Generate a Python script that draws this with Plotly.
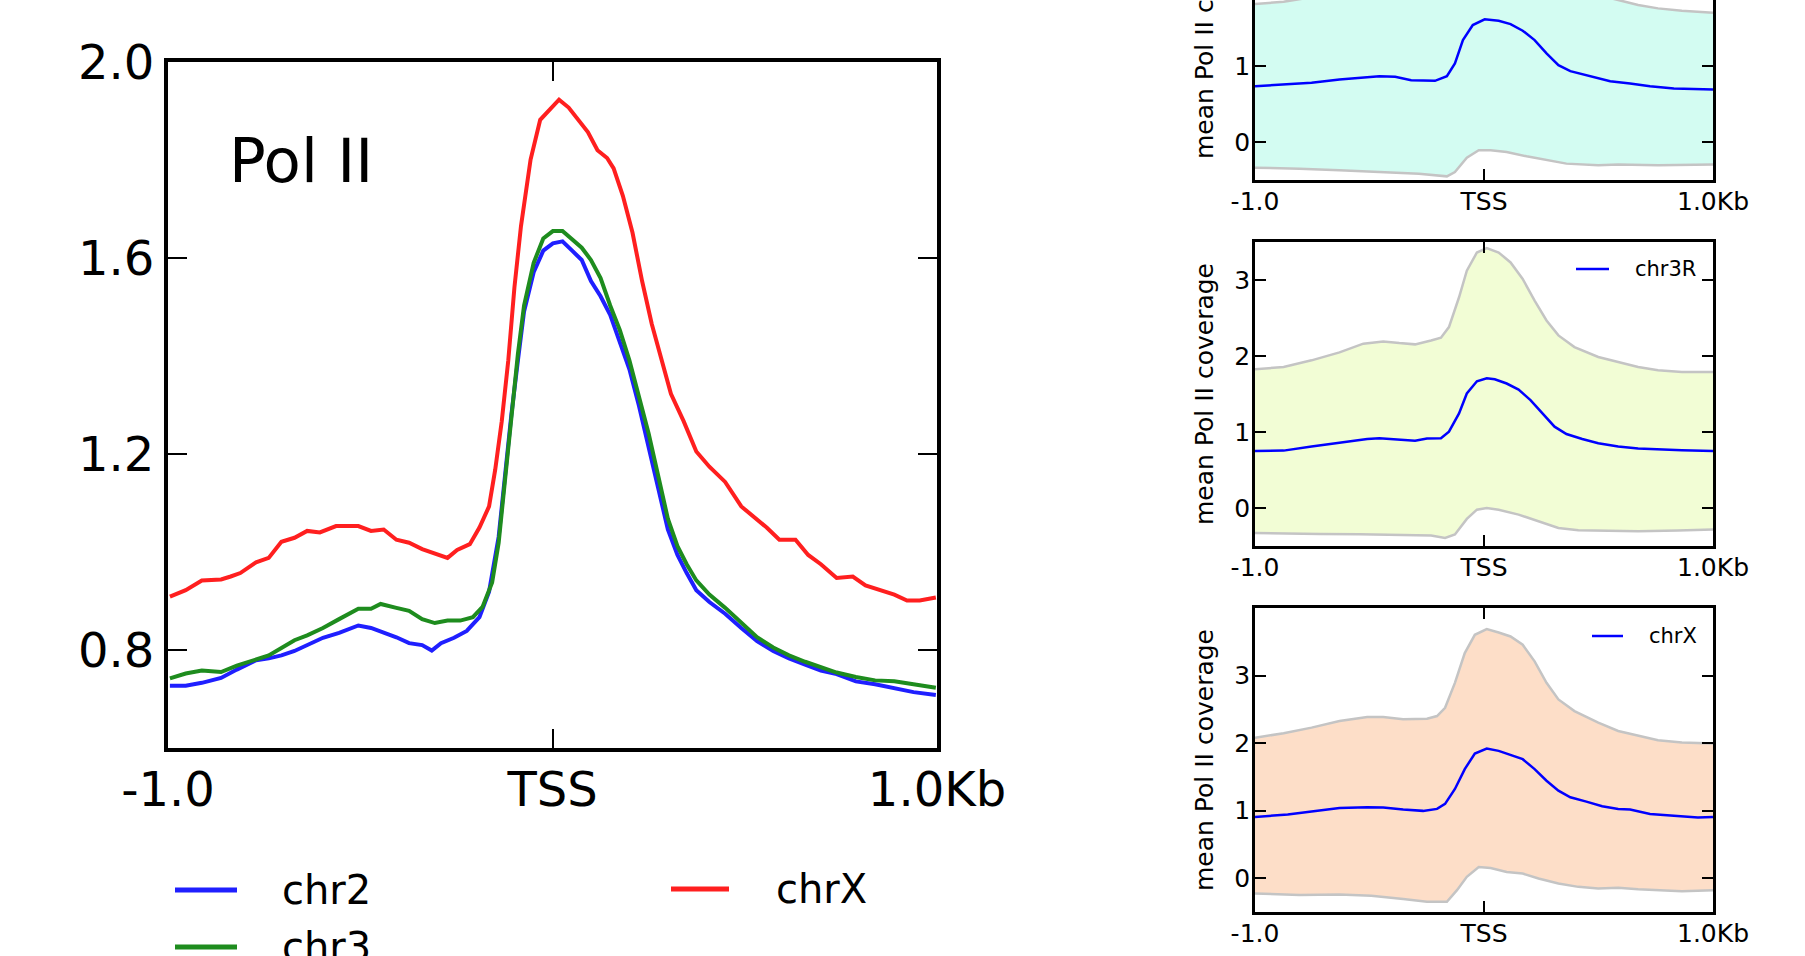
import plotly.graph_objects as go

W, H = 1805, 956
def px(x):
    return x / W
def py(y):
    return 1 - y / H

FONT = "DejaVu Sans"

# ---------------- main panel data (bp relative to TSS) ----------------
tick_vals_x = [-1000, 0, 1000]
tick_text_x = ["-1.0", "TSS", "1.0Kb"]

chrX_x = [-995, -954, -912, -862, -837, -812, -771, -738, -705, -671, -638, -605, -563, -505, -472,
          -439, -406, -373, -339, -306, -273, -248, -215, -190, -165, -149, -132, -115, -99, -82,
          -57, -32, -7, 17, 42, 67, 92, 117, 142, 159, 183, 208, 233, 258, 283, 308, 341, 374, 408,
          449, 491, 524, 557, 590, 632, 665, 698, 739, 781, 814, 856, 889, 922, 955, 997]
chrX_y = [0.909, 0.922, 0.942, 0.944, 0.950, 0.957, 0.979, 0.988, 1.021, 1.029,
          1.043, 1.040, 1.053, 1.053, 1.043, 1.046, 1.025, 1.019, 1.006, 0.996,
          0.988, 1.004, 1.016, 1.050, 1.093, 1.168, 1.267, 1.391, 1.540, 1.665,
          1.801, 1.882, 1.903, 1.923, 1.907, 1.882, 1.857, 1.820, 1.804, 1.783,
          1.727, 1.652, 1.553, 1.466, 1.391, 1.323, 1.267, 1.205, 1.174, 1.143,
          1.093, 1.071, 1.050, 1.025, 1.025, 0.994, 0.975, 0.947, 0.950, 0.932,
          0.922, 0.913, 0.901, 0.901, 0.907]

chr3_x = [-995, -954, -912, -862, -821, -771, -738, -705, -671, -638, -597, -555, -505, -472, -447,
          -406, -373, -339, -306, -273, -240, -207, -182, -157, -140, -124, -107, -90, -74, -49,
          -24, 1, 26, 51, 76, 100, 125, 150, 175, 200, 225, 250, 275, 300, 325, 349, 374, 408,
          449, 491, 532, 574, 615, 657, 698, 739, 789, 839, 889, 939, 997]
chr3_y = [0.742, 0.752, 0.758, 0.755, 0.768, 0.780, 0.789, 0.804, 0.820, 0.830,
          0.845, 0.863, 0.884, 0.884, 0.894, 0.886, 0.880, 0.863, 0.855, 0.860,
          0.860, 0.867, 0.888, 0.938, 1.019, 1.143, 1.280, 1.404, 1.503, 1.590,
          1.640, 1.655, 1.655, 1.637, 1.621, 1.596, 1.559, 1.503, 1.453, 1.391,
          1.317, 1.242, 1.155, 1.068, 1.012, 0.975, 0.942, 0.913, 0.886, 0.857,
          0.826, 0.805, 0.789, 0.776, 0.764, 0.754, 0.745, 0.738, 0.736, 0.730, 0.723]

chr2_x = [-995, -954, -912, -862, -821, -771, -738, -705, -671, -638, -597, -555, -505, -472, -439,
          -406, -373, -339, -314, -290, -256, -223, -190, -165, -140, -124, -107, -90, -74, -49,
          -24, 1, 26, 51, 76, 100, 125, 150, 175, 200, 225, 250, 275, 300, 325, 349, 374, 408,
          449, 491, 532, 574, 615, 657, 698, 739, 789, 839, 889, 939, 997]
chr2_y = [0.727, 0.727, 0.733, 0.743, 0.760, 0.779, 0.783, 0.789, 0.798, 0.810,
          0.825, 0.835, 0.850, 0.845, 0.836, 0.826, 0.814, 0.810, 0.799, 0.814,
          0.825, 0.839, 0.867, 0.919, 1.031, 1.155, 1.280, 1.391, 1.491, 1.571,
          1.615, 1.630, 1.634, 1.615, 1.596, 1.553, 1.522, 1.484, 1.429, 1.373,
          1.298, 1.217, 1.130, 1.046, 0.994, 0.957, 0.922, 0.898, 0.874, 0.845,
          0.818, 0.798, 0.783, 0.770, 0.758, 0.751, 0.736, 0.730, 0.723, 0.714, 0.708]

main_ytick_vals = [0.8, 1.2, 1.6, 2.0]
main_ytick_text = ["0.8", "1.2", "1.6", "2.0"]

# ---------------- right panels data ----------------
# top panel (label cut off)
top_mean_x = [-1000, -875, -753, -631, -544, -457, -388, -318, -214, -162, -127, -92, -49, 3, 64,
              116, 169, 221, 273, 325, 377, 464, 551, 638, 725, 829, 1000]
top_mean_y = [0.732, 0.759, 0.776, 0.820, 0.846, 0.864, 0.855, 0.811, 0.803, 0.864, 1.031, 1.338,
              1.535, 1.610, 1.592, 1.548, 1.461, 1.338, 1.162, 1.009, 0.930, 0.864, 0.798, 0.768,
              0.732, 0.702, 0.689]
top_up_x = [-1000, -875, -753, -631, -510, -400, -250, -150, -75, 0, 100, 200, 300, 400, 500, 586,
            673, 760, 864, 1000]
top_up_y = [1.811, 1.842, 1.90, 2.05, 2.15, 2.15, 2.15, 2.3, 2.9, 3.3, 3.1, 2.6, 2.2, 2.0, 1.93,
            1.864, 1.798, 1.754, 1.724, 1.697]
top_lo_x = [-1000, -805, -631, -457, -284, -162, -127, -75, -23, 29, 99, 186, 273, 360, 499, 586,
            760, 1000]
top_lo_y = [-0.338, -0.351, -0.373, -0.395, -0.417, -0.452, -0.395, -0.206, -0.110, -0.110, -0.132,
            -0.189, -0.241, -0.285, -0.307, -0.298, -0.307, -0.298]

# middle panel chr3R
r3_mean_x = [-1000, -875, -753, -631, -510, -457, -388, -301, -249, -188, -153, -109, -75, -31, 12,
             47, 99, 151, 203, 256, 308, 360, 429, 499, 586, 673, 760, 864, 1000]
r3_mean_y = [0.751, 0.755, 0.808, 0.860, 0.908, 0.917, 0.904, 0.886, 0.913, 0.917, 1.004, 1.245,
             1.507, 1.668, 1.707, 1.694, 1.638, 1.559, 1.419, 1.245, 1.070, 0.974, 0.908, 0.852,
             0.808, 0.782, 0.769, 0.760, 0.751]
r3_up_x = [-1000, -875, -753, -631, -527, -440, -370, -301, -231, -188, -153, -109, -75, -31, 12, 64,
           116, 169, 221, 273, 325, 395, 499, 586, 673, 760, 864, 1000]
r3_up_y = [1.825, 1.856, 1.943, 2.048, 2.162, 2.192, 2.170, 2.153, 2.205, 2.240, 2.380, 2.773, 3.122,
           3.362, 3.419, 3.362, 3.231, 3.013, 2.729, 2.467, 2.271, 2.118, 1.987, 1.921, 1.856, 1.812,
           1.790, 1.790]
r3_lo_x = [-1000, -875, -718, -544, -370, -231, -170, -127, -75, -31, 12, 64, 151, 238, 325, 412, 551,
           673, 847, 1000]
r3_lo_y = [-0.328, -0.336, -0.341, -0.345, -0.354, -0.362, -0.393, -0.349, -0.144, -0.022, 0.0,
           -0.022, -0.087, -0.175, -0.262, -0.293, -0.301, -0.306, -0.297, -0.284]

# bottom panel chrX
rx_mean_x = [-1000, -857, -753, -631, -510, -440, -353, -266, -205, -170, -127, -84, -40, 12, 64,
             116, 169, 221, 273, 325, 377, 447, 516, 586, 638, 725, 829, 934, 1000]
rx_mean_y = [0.908, 0.943, 0.987, 1.041, 1.051, 1.046, 1.016, 0.997, 1.026, 1.100, 1.321, 1.615,
             1.846, 1.920, 1.885, 1.826, 1.762, 1.615, 1.443, 1.296, 1.198, 1.134, 1.065, 1.026,
             1.016, 0.952, 0.928, 0.898, 0.908]
rx_up_x = [-1000, -875, -753, -631, -510, -440, -353, -249, -205, -170, -127, -84, -40, 12, 64, 116,
           169, 221, 273, 325, 395, 499, 586, 673, 760, 864, 1000]
rx_up_y = [2.081, 2.145, 2.229, 2.327, 2.386, 2.386, 2.352, 2.361, 2.401, 2.523, 2.892, 3.333, 3.603,
           3.687, 3.638, 3.579, 3.456, 3.211, 2.892, 2.646, 2.474, 2.302, 2.180, 2.106, 2.042, 2.008,
           1.993]
rx_lo_x = [-1000, -805, -631, -492, -353, -249, -162, -118, -75, -23, 29, 99, 169, 238, 325, 412, 499,
           586, 673, 760, 864, 1000]
rx_lo_y = [-0.226, -0.250, -0.241, -0.260, -0.309, -0.349, -0.349, -0.177, 0.020, 0.167, 0.152, 0.093,
           0.069, -0.005, -0.079, -0.128, -0.152, -0.142, -0.162, -0.177, -0.191, -0.177]

fig = go.Figure()

# ---- main panel lines ----
main_series = [("chr2", chr2_x, chr2_y, "#1f1fff"),
               ("chr3", chr3_x, chr3_y, "#1e8c1e"),
               ("chrX", chrX_x, chrX_y, "#ff1f1f")]
for name, xs, ys, col in main_series:
    fig.add_trace(go.Scatter(x=xs, y=ys, mode="lines", name=name,
                             line=dict(color=col, width=4),
                             showlegend=False, xaxis="x", yaxis="y"))

# ---- right panels ----
def add_panel(n, mx, my, ux, uy, lx, ly, fillcol):
    xa, ya = "x%d" % n, "y%d" % n
    fig.add_trace(go.Scatter(x=lx, y=ly, mode="lines", line=dict(color="#c4c4c4", width=2.5),
                             showlegend=False, xaxis=xa, yaxis=ya))
    fig.add_trace(go.Scatter(x=ux, y=uy, mode="lines", line=dict(color="#c4c4c4", width=2.5),
                             fill="tonexty", fillcolor=fillcol,
                             showlegend=False, xaxis=xa, yaxis=ya))
    fig.add_trace(go.Scatter(x=mx, y=my, mode="lines", line=dict(color="#0000ff", width=2.5),
                             showlegend=False, xaxis=xa, yaxis=ya))

add_panel(2, top_mean_x, top_mean_y, top_up_x, top_up_y, top_lo_x, top_lo_y, "#d3fcf2")
add_panel(3, r3_mean_x, r3_mean_y, r3_up_x, r3_up_y, r3_lo_x, r3_lo_y, "#f2fdd5")
add_panel(4, rx_mean_x, rx_mean_y, rx_up_x, rx_up_y, rx_lo_x, rx_lo_y, "#fddec8")

# ---- axes ----
main_ax = dict(showline=True, linecolor="black", linewidth=4, mirror="allticks",
               ticks="inside", ticklen=19, tickwidth=2, tickcolor="black",
               showgrid=False, zeroline=False, automargin=False,
               tickfont=dict(family=FONT, size=48, color="black"))
right_ax = dict(showline=True, linecolor="black", linewidth=2.5, mirror="allticks",
                ticks="inside", ticklen=11, tickwidth=1.5, tickcolor="black",
                showgrid=False, zeroline=False, automargin=False,
                tickfont=dict(family=FONT, size=25, color="black"))

RX0, RX1 = px(1255), px(1713)
right_ax_nomirror = {k: v for k, v in right_ax.items() if k != "mirror"}
layout = dict(
    width=W, height=H,
    margin=dict(l=0, r=0, t=0, b=0, autoexpand=False),
    paper_bgcolor="white", plot_bgcolor="white",
    showlegend=False,
    xaxis=dict(domain=[px(168), px(937)], range=[-1000, 1000], anchor="y",
               tickvals=tick_vals_x, ticktext=tick_text_x, ticklabelstandoff=-4, **main_ax),
    yaxis=dict(domain=[py(748), py(62)], range=[0.6, 2.0], anchor="x",
               tickvals=main_ytick_vals, ticktext=main_ytick_text, ticklabelstandoff=0, **main_ax),
    xaxis2=dict(domain=[RX0, RX1], range=[-1000, 1000], anchor="y2",
                tickvals=tick_vals_x, ticktext=tick_text_x, ticklabelstandoff=-3,
                mirror=False, **right_ax_nomirror),
    yaxis2=dict(domain=[py(180), 1.0], range=[-0.5, 1.864], anchor="x2",
                tickvals=[0, 1], ticktext=["0", "1"], ticklabelstandoff=-3, **right_ax),
    xaxis3=dict(domain=[RX0, RX1], range=[-1000, 1000], anchor="y3",
                tickvals=tick_vals_x, ticktext=tick_text_x, ticklabelstandoff=-3, **right_ax),
    yaxis3=dict(domain=[py(546), py(242)], range=[-0.5, 3.5], anchor="x3",
                tickvals=[0, 1, 2, 3], ticktext=["0", "1", "2", "3"], ticklabelstandoff=-3, **right_ax),
    xaxis4=dict(domain=[RX0, RX1], range=[-1000, 1000], anchor="y4",
                tickvals=tick_vals_x, ticktext=tick_text_x, ticklabelstandoff=-3, **right_ax),
    yaxis4=dict(domain=[py(912), py(608)], range=[-0.5, 4.0], anchor="x4",
                tickvals=[0, 1, 2, 3], ticktext=["0", "1", "2", "3"], ticklabelstandoff=-3, **right_ax),
)
fig.update_layout(**layout)

# ---- annotations: title, y-axis titles, legends ----
ann = []
ann.append(dict(text="Pol II", x=px(227), y=py(160), xref="paper", yref="paper",
                xanchor="left", yanchor="middle", showarrow=False,
                font=dict(family=FONT, size=61, color="black")))
ytitle = "mean Pol II coverage"
for cy in [28, 394, 760]:
    ann.append(dict(text=ytitle, x=px(1204), y=py(cy), xref="paper", yref="paper",
                    xanchor="center", yanchor="middle", textangle=-90, showarrow=False,
                    font=dict(family=FONT, size=25, color="black")))

shapes = []
main_legend = [("chr2", "#1f1fff", 175, 237, 890, 280),
               ("chr3", "#1e8c1e", 175, 237, 947, 280),
               ("chrX", "#ff1f1f", 671, 729, 889, 774)]
for name, col, x0, x1, yy, tx in main_legend:
    shapes.append(dict(type="line", xref="paper", yref="paper", x0=px(x0), x1=px(x1),
                       y0=py(yy), y1=py(yy), line=dict(color=col, width=5)))
    ann.append(dict(text=name, x=px(tx), y=py(yy), xref="paper", yref="paper",
                    xanchor="left", yanchor="middle", showarrow=False,
                    font=dict(family=FONT, size=40, color="black")))

right_legend = [("chr3R", 1576, 1609, 269, 1633),
                ("chrX", 1592, 1623, 636, 1647)]
for name, x0, x1, yy, tx in right_legend:
    shapes.append(dict(type="line", xref="paper", yref="paper", x0=px(x0), x1=px(x1),
                       y0=py(yy), y1=py(yy), line=dict(color="#0000ff", width=2.5)))
    ann.append(dict(text=name, x=px(tx), y=py(yy), xref="paper", yref="paper",
                    xanchor="left", yanchor="middle", showarrow=False,
                    font=dict(family=FONT, size=21, color="black")))

fig.update_layout(annotations=ann, shapes=shapes)
fig.write_html("out.html",
               config={"displayModeBar": False},
               post_script="document.body.style.margin='0';document.body.style.overflow='hidden';")
